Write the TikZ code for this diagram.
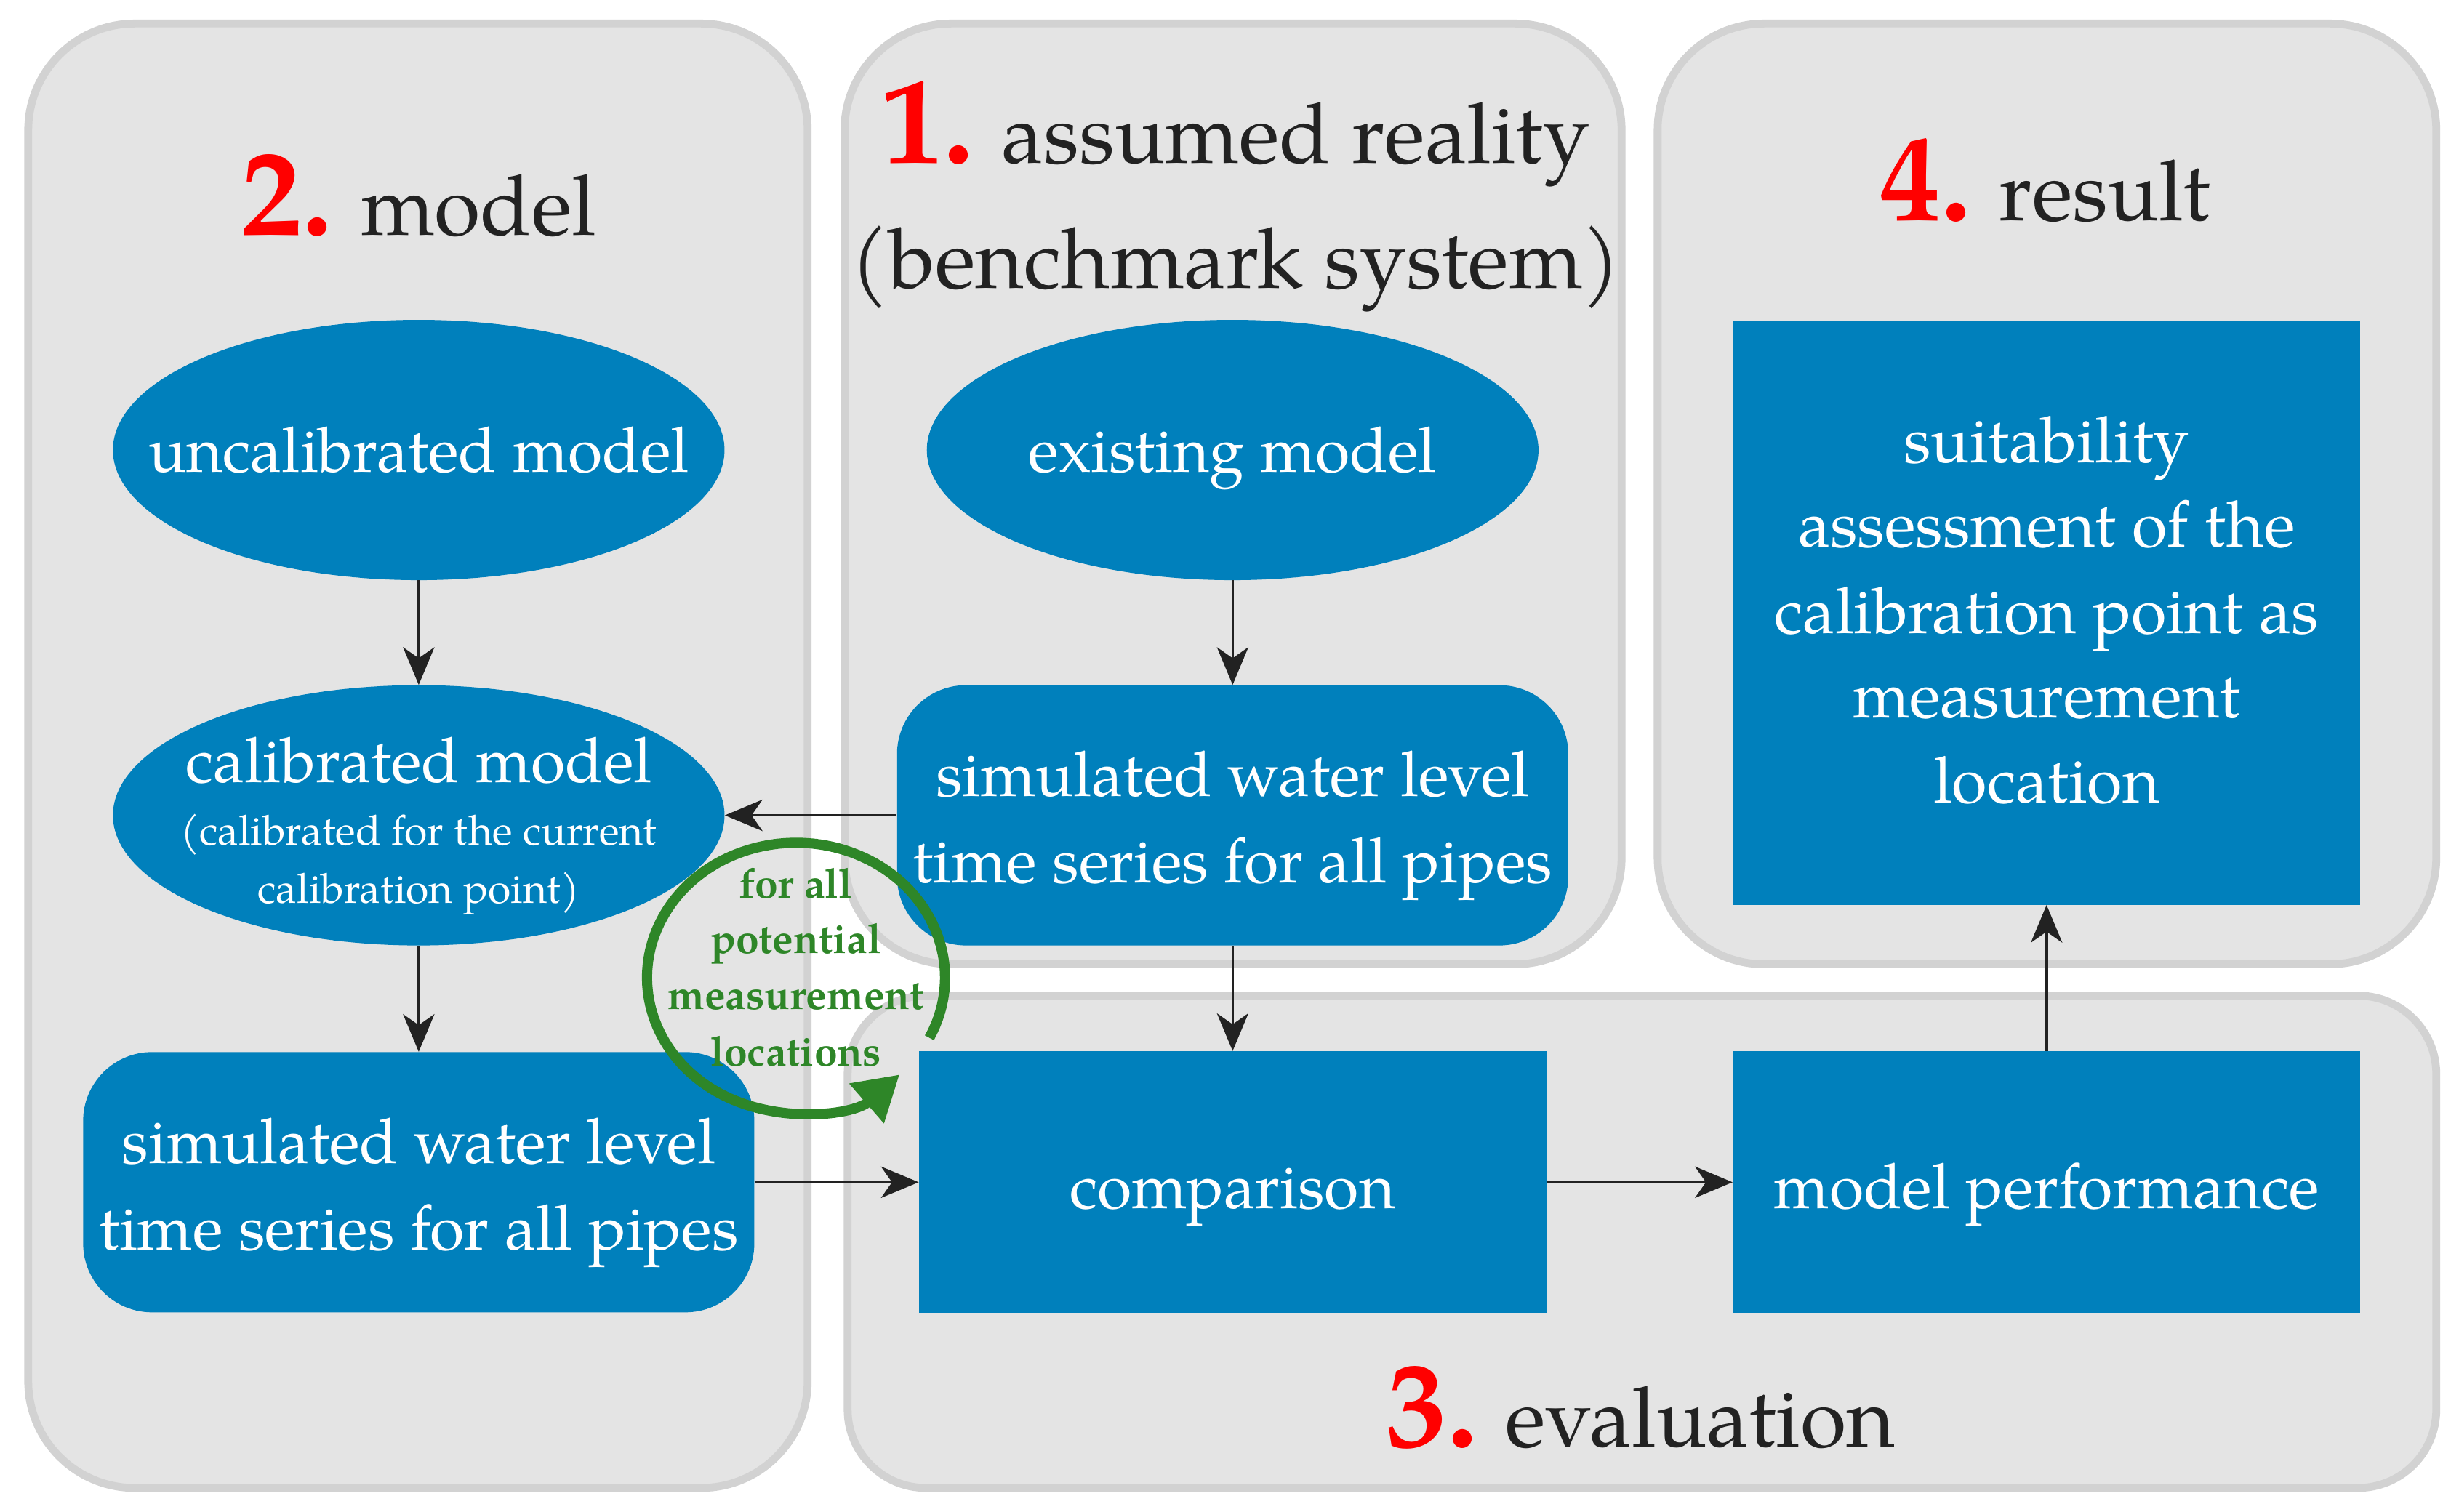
\documentclass[tikz,border=0pt]{standalone}
\usepackage{fontspec}
\setmainfont{TeX Gyre Pagella}
\usetikzlibrary{shapes.geometric,arrows.meta}
\definecolor{panelfill}{RGB}{228,228,228}
\definecolor{panelline}{RGB}{210,210,210}
\definecolor{boxblue}{RGB}{0,128,188}
\definecolor{darktext}{RGB}{34,34,34}
\definecolor{loopgreen}{RGB}{46,134,40}
\definecolor{numred}{RGB}{255,0,0}
\newcommand{\hnum}[1]{{\color{numred}\fontsize{78}{78}\selectfont\bfseries #1}}
\begin{document}
\begin{tikzpicture}[x=1pt,y=-1pt,
  panel/.style={draw=panelline, line width=5pt, fill=panelfill},
  blueell/.style={ellipse, fill=boxblue, draw=none, minimum width=390pt, minimum height=166pt, inner sep=0pt},
  bluerect/.style={rectangle, fill=boxblue, draw=none, inner sep=0pt},
  bluernd/.style={rectangle, rounded corners=44pt, fill=boxblue, draw=none, inner sep=0pt, minimum width=428pt, minimum height=166pt},
  intext/.style={text=white, font=\fontsize{40}{55}\selectfont, inner sep=0pt, anchor=base},
  suittext/.style={text=white, font=\fontsize{41}{55}\selectfont, inner sep=0pt, anchor=base},
  smalltext/.style={text=white, font=\fontsize{26.5}{36}\selectfont, inner sep=0pt, anchor=base},
  head/.style={text=darktext, font=\fontsize{53.5}{60}\selectfont, inner sep=0pt, anchor=base},
  greentext/.style={text=loopgreen, font=\fontsize{26.5}{36}\selectfont\bfseries, inner sep=0pt, anchor=base},
  conn/.style={draw=darktext, line width=1.6pt, -{Stealth[length=24pt,width=20pt,inset=7pt]}}
]
\useasboundingbox (0,0) rectangle (1568,964);
\fill[white] (0,0) rectangle (1568,964);

% panels
\draw[panel, rounded corners=68pt] (18,15) rectangle (515,949);
\draw[panel, rounded corners=68pt] (538.5,15) rectangle (1034,615);
\draw[panel, rounded corners=68pt] (1057,15) rectangle (1553.5,615);
\draw[panel, rounded corners=50pt] (540.5,635) rectangle (1553.5,949);

% headers
\node[head] (h2) at (267,150) {\hnum{2.} model};
\node[head] (h1a) at (788,104) {\hnum{1.} assumed reality};
\node[head] (h1b) at (788,184) {(benchmark system)};
\node[head] (h4) at (1304,140.5) {\hnum{4.} result};
\node[head] (h3) at (1046,923) {\hnum{3.} evaluation};

% shapes
\node[blueell] (uncal) at (267,287) {};
\node[intext] (uncalT) at (267,301) {uncalibrated model};

\node[blueell] (cal) at (267,520) {};
\node[intext] (calT) at (267,499) {calibrated model};
\node[smalltext] (calS1) at (267,539) {(calibrated for the current};
\node[smalltext] (calS2) at (267,576) {calibration point)};

\node[bluernd] (simL) at (267,754) {};
\node[intext] (simL1) at (267,742) {simulated water level};
\node[intext] (simL2) at (267,797) {time series for all pipes};

\node[blueell] (exist) at (786,287) {};
\node[intext] (existT) at (786,301) {existing model};

\node[bluernd] (simR) at (786,520) {};
\node[intext] (simR1) at (786,508) {simulated water level};
\node[intext] (simR2) at (786,563) {time series for all pipes};

\node[bluerect, minimum width=400pt, minimum height=167pt] (comp) at (786,754) {};
\node[intext] (compT) at (786,771) {comparison};

\node[bluerect, minimum width=400pt, minimum height=167pt] (perf) at (1305,754) {};
\node[intext] (perfT) at (1305,771) {model performance};

\node[bluerect, minimum width=400pt, minimum height=372pt] (suit) at (1305,391) {};
\node[suittext] (suit1) at (1305,295) {suitability};
\node[suittext] (suit2) at (1305,349) {assessment of the};
\node[suittext] (suit3) at (1305,404) {calibration point as};
\node[suittext] (suit4) at (1305,458) {measurement};
\node[suittext] (suit5) at (1305,512) {location};

% connectors
\draw[conn] (uncal.south) -- (cal.north);
\draw[conn] (exist.south) -- (simR.north);
\draw[conn] (simR.west) -- (cal.east);
\draw[conn] (cal.south) -- (simL.north);
\draw[conn] (simR.south) -- (comp.north);
\draw[conn] (simL.east) -- (comp.west);
\draw[conn] (comp.east) -- (perf.west);
\draw[conn] (perf.north) -- (suit.south);

% loop
\coordinate (loopc) at (507.6,623.5);
\draw[loopgreen, line width=6.5pt, -{Triangle[length=28pt,width=32pt]}]
  ([shift={(26.5:95 and 86)}]loopc) arc[start angle=26.5, end angle=-314, x radius=95, y radius=86];
\node[greentext] (g1) at (507.5,572.6) {for all};
\node[greentext] (g2) at (507.5,608) {potential};
\node[greentext] (g3) at (507.5,643.6) {measurement};
\node[greentext] (g4) at (507.5,680) {locations};
\end{tikzpicture}
\end{document}
